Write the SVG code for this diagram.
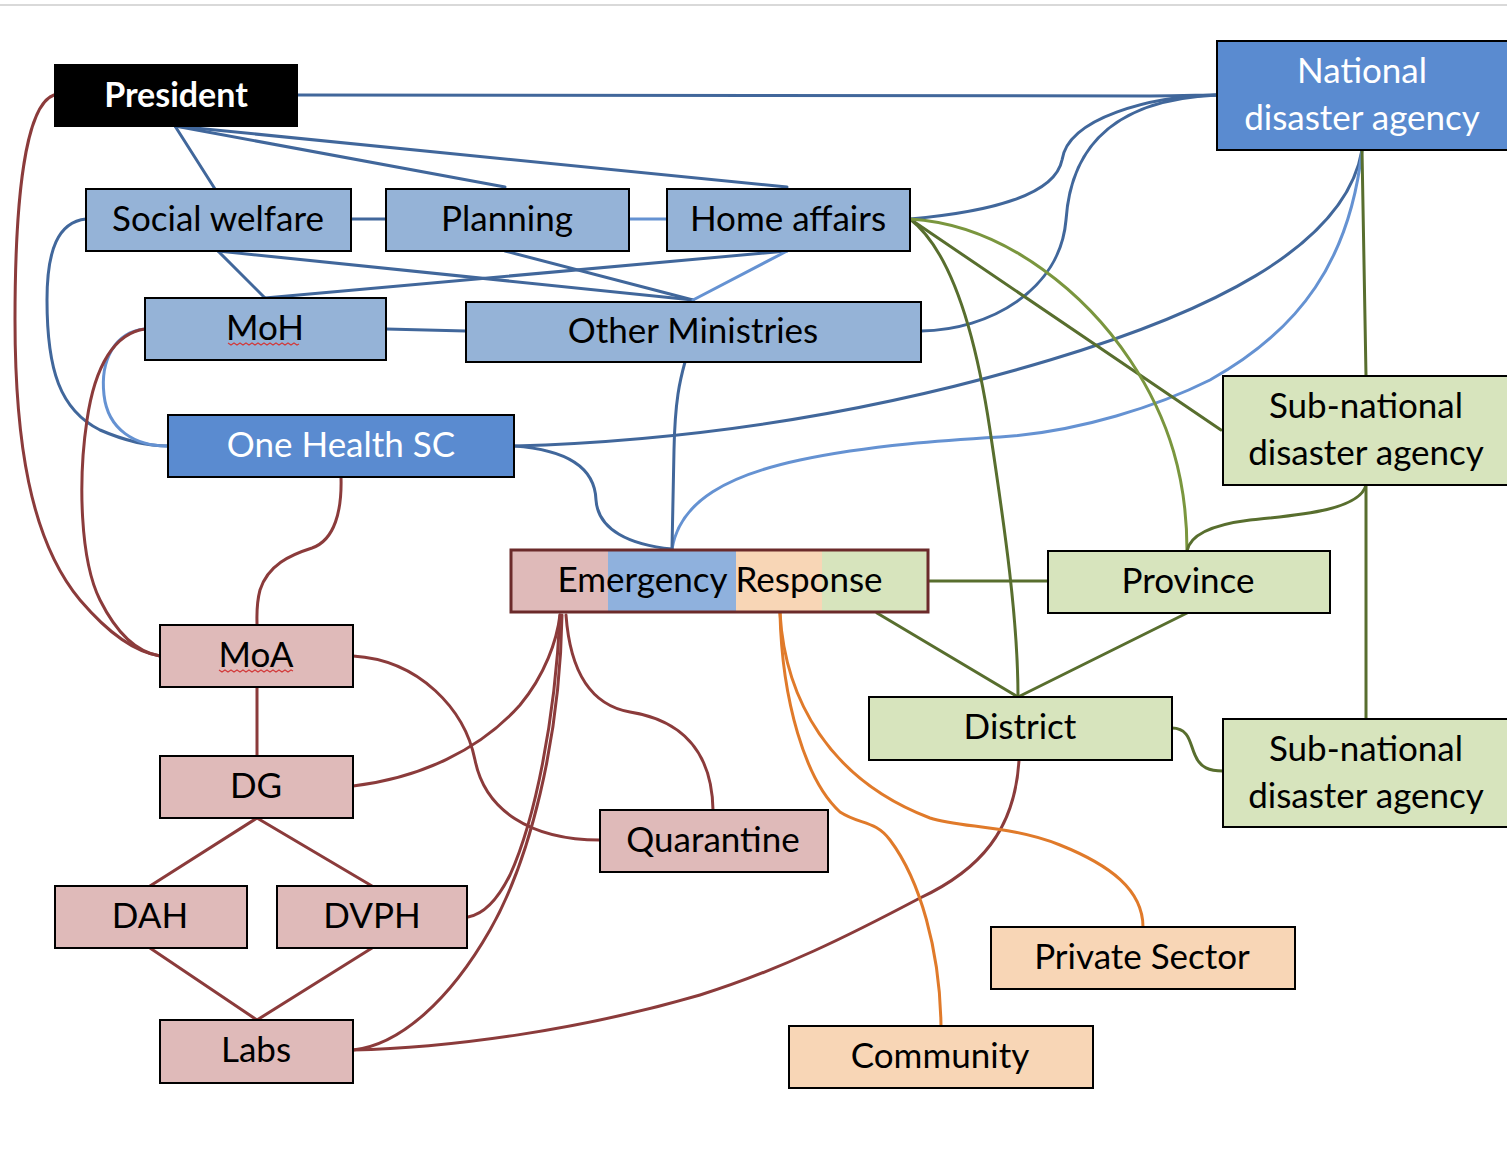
<svg xmlns="http://www.w3.org/2000/svg" width="1507" height="1157" viewBox="0 0 1507 1157">
<style>
text{font-family:Lato,"Liberation Sans",sans-serif;font-size:35px;text-anchor:middle;dominant-baseline:central;fill:#000}
.w{fill:#fff}
.b{font-weight:bold;font-size:34px}
.n{stroke:#000;stroke-width:2}
.lb{fill:#95b3d7}
.mb{fill:#5a8bd0}
.pk{fill:#dfbab9}
.gr{fill:#d7e4bd}
.pc{fill:#f8d6b6}
.c path{fill:none;stroke-width:3;stroke-linecap:round}
.db{stroke:#41679b}
.lbl{stroke:#6592d2}
.rd{stroke:#8b3b3b}
.og{stroke:#586e2e}
.lg{stroke:#7a963e}
.or{stroke:#e07a2a}
.sq{fill:none;stroke:#d23a3a;stroke-width:1.2}
</style>
<rect width="1507" height="1157" fill="#fff"/>
<line x1="0" y1="5" x2="1507" y2="5" stroke="#d9d9d9" stroke-width="2"/>
<g id="connectors" class="c">
<path class="db" d="M298,95 L1150,96 C1185,96 1200,95 1217,95"/>
<path class="db" d="M175,126 L215,189"/>
<path class="db" d="M175,126 L505,187"/>
<path class="db" d="M175,126 L787,187"/>
<path class="db" d="M351,219 L386,219"/>
<path class="lbl" d="M629,219 L667,219"/>
<path class="db" d="M218,251 L265,298"/>
<path class="db" d="M218,251 L693,300"/>
<path class="db" d="M505,251 L693,300"/>
<path class="db" d="M787,251 L265,298"/>
<path class="lbl" d="M787,251 L693,300"/>
<path class="db" d="M386,329 L466,331"/>
<path class="db" d="M86,219 C58,222 47,250 47,300 C47,370 60,410 100,430 C130,443 150,446 168,446"/>
<path class="lbl" d="M145,329 C115,332 100,360 104,395 C108,430 135,446 168,446"/>
<path class="db" d="M910,219 C990,212 1055,195 1062,160 C1068,118 1150,96 1217,95"/>
<path class="db" d="M921,331 C990,330 1060,290 1066,220 C1070,160 1100,100 1217,95"/>
<path class="db" d="M514,446 C720,440 900,405 1050,360 C1200,315 1345,250 1362,150"/>
<path class="lbl" d="M672,549 C680,500 730,475 800,460 C870,445 950,440 1000,437 C1080,432 1160,405 1210,380 C1300,330 1350,260 1362,150"/>
<path class="db" d="M514,446 C570,450 595,470 596,500 C598,530 630,545 672,549"/>
<path class="db" d="M685,362 C680,380 675,400 674,450 L672,549"/>
<path class="og" d="M910,219 C950,250 975,330 990,430 C1005,530 1018,620 1018,697"/>
<path class="og" d="M910,219 L1221,430"/>
<path class="lg" d="M910,219 C1010,225 1090,300 1130,360 C1170,420 1187,480 1187,551"/>
<path class="og" d="M1362,150 L1366,376"/>
<path class="og" d="M1366,485 C1360,510 1300,515 1250,520 C1210,525 1190,535 1187,551"/>
<path class="og" d="M1366,485 L1366,719"/>
<path class="og" d="M928,581 L1048,581"/>
<path class="og" d="M877,613 L1018,697"/>
<path class="og" d="M1187,613 L1018,697"/>
<path class="og" d="M1172,728 C1190,728 1190,745 1195,755 C1200,768 1210,771 1223,771"/>
<path class="rd" d="M54,95 C25,105 15,200 15,320 C15,440 30,540 80,600 C110,635 135,652 160,656"/>
<path class="rd" d="M145,329 C115,333 95,365 87,420 C78,480 80,560 100,600 C115,630 135,652 160,656"/>
<path class="rd" d="M341,477 C342,510 335,540 312,548 C290,555 268,565 260,590 C256,605 257,615 257,625"/>
<path class="rd" d="M257,687 L257,756"/>
<path class="rd" d="M353,656 C420,660 465,710 475,760 C485,810 530,840 600,840"/>
<path class="rd" d="M353,786 C420,778 480,750 520,705 C545,675 557,640 560,615"/>
<path class="rd" d="M566,615 C570,670 590,705 630,712 C680,720 712,750 713,810"/>
<path class="rd" d="M560,615 C555,720 535,820 510,875 C495,905 480,915 468,917"/>
<path class="rd" d="M562,615 C560,740 530,860 490,930 C450,1000 400,1045 353,1050"/>
<path class="rd" d="M257,818 L150,886"/>
<path class="rd" d="M257,818 L372,886"/>
<path class="rd" d="M150,948 L257,1020"/>
<path class="rd" d="M372,948 L257,1020"/>
<path class="rd" d="M1019,760 C1015,830 980,870 920,898 C850,935 780,970 700,995 C580,1030 450,1048 353,1050"/>
<path class="or" d="M780,613 C782,700 805,780 840,812 C860,825 875,820 890,840 C920,880 940,950 941,1026"/>
<path class="or" d="M780,613 C785,700 830,780 930,818 C960,828 1010,825 1060,845 C1110,865 1143,890 1143,927"/>
</g>
<g id="president"><rect x="54" y="64" width="244" height="63" fill="#000"/><text class="w b" x="176" y="93">President</text></g>
<g id="social-welfare"><rect class="n lb" x="86" y="189" width="265" height="62"/><text x="218" y="217">Social welfare</text></g>
<g id="planning"><rect class="n lb" x="386" y="189" width="243" height="62"/><text x="507" y="217">Planning</text></g>
<g id="home-affairs"><rect class="n lb" x="667" y="189" width="243" height="62"/><text x="788" y="217">Home affairs</text></g>
<g id="moh"><rect class="n lb" x="145" y="298" width="241" height="62"/><text x="265" y="326">MoH</text><path class="sq" d="M228,343 l3,2 l3,-2 l3,2 l3,-2 l3,2 l3,-2 l3,2 l3,-2 l3,2 l3,-2 l3,2 l3,-2 l3,2 l3,-2 l3,2 l3,-2 l3,2 l3,-2 l3,2 l3,-2 l3,2 l3,-2 l3,2 l2,-1"/></g>
<g id="other-ministries"><rect class="n lb" x="466" y="302" width="455" height="60"/><text x="693" y="329">Other Ministries</text></g>
<g id="one-health-sc"><rect class="n mb" x="168" y="415" width="346" height="62"/><text class="w" x="341" y="443">One Health SC</text></g>
<g id="national-disaster-agency"><rect class="n mb" x="1217" y="41" width="300" height="109"/><text class="w" x="1362" y="69">National</text><text class="w" x="1362" y="116">disaster agency</text></g>
<g id="sub-national-1"><rect class="n gr" x="1223" y="376" width="294" height="109"/><text x="1366" y="404">Sub-national</text><text x="1366" y="451">disaster agency</text></g>
<g id="emergency-response"><rect x="511" y="550" width="97" height="62" fill="#dfbab9"/><rect x="608" y="550" width="128" height="62" fill="#8fb1dd"/><rect x="736" y="550" width="86" height="62" fill="#f8d6b6"/><rect x="822" y="550" width="106" height="62" fill="#d7e4bd"/><rect x="511" y="550" width="417" height="62" fill="none" stroke="#6b2a2a" stroke-width="3"/><text x="720" y="578">Emergency Response</text></g>
<g id="province"><rect class="n gr" x="1048" y="551" width="282" height="62"/><text x="1188" y="579">Province</text></g>
<g id="district"><rect class="n gr" x="869" y="697" width="303" height="63"/><text x="1020" y="725">District</text></g>
<g id="sub-national-2"><rect class="n gr" x="1223" y="719" width="294" height="108"/><text x="1366" y="747">Sub-national</text><text x="1366" y="794">disaster agency</text></g>
<g id="moa"><rect class="n pk" x="160" y="625" width="193" height="62"/><text x="256" y="653">MoA</text><path class="sq" d="M219,670 l3,2 l3,-2 l3,2 l3,-2 l3,2 l3,-2 l3,2 l3,-2 l3,2 l3,-2 l3,2 l3,-2 l3,2 l3,-2 l3,2 l3,-2 l3,2 l3,-2 l3,2 l3,-2 l3,2 l3,-2 l3,2 l3,-2 l2,1"/></g>
<g id="dg"><rect class="n pk" x="160" y="756" width="193" height="62"/><text x="256" y="784">DG</text></g>
<g id="quarantine"><rect class="n pk" x="600" y="810" width="228" height="62"/><text x="713" y="838">Quarantine</text></g>
<g id="dah"><rect class="n pk" x="55" y="886" width="192" height="62"/><text x="150" y="914">DAH</text></g>
<g id="dvph"><rect class="n pk" x="277" y="886" width="190" height="62"/><text x="372" y="914">DVPH</text></g>
<g id="labs"><rect class="n pk" x="160" y="1020" width="193" height="63"/><text x="256" y="1048">Labs</text></g>
<g id="private-sector"><rect class="n pc" x="991" y="927" width="304" height="62"/><text x="1142" y="955">Private Sector</text></g>
<g id="community"><rect class="n pc" x="789" y="1026" width="304" height="62"/><text x="940" y="1054">Community</text></g>
</svg>
